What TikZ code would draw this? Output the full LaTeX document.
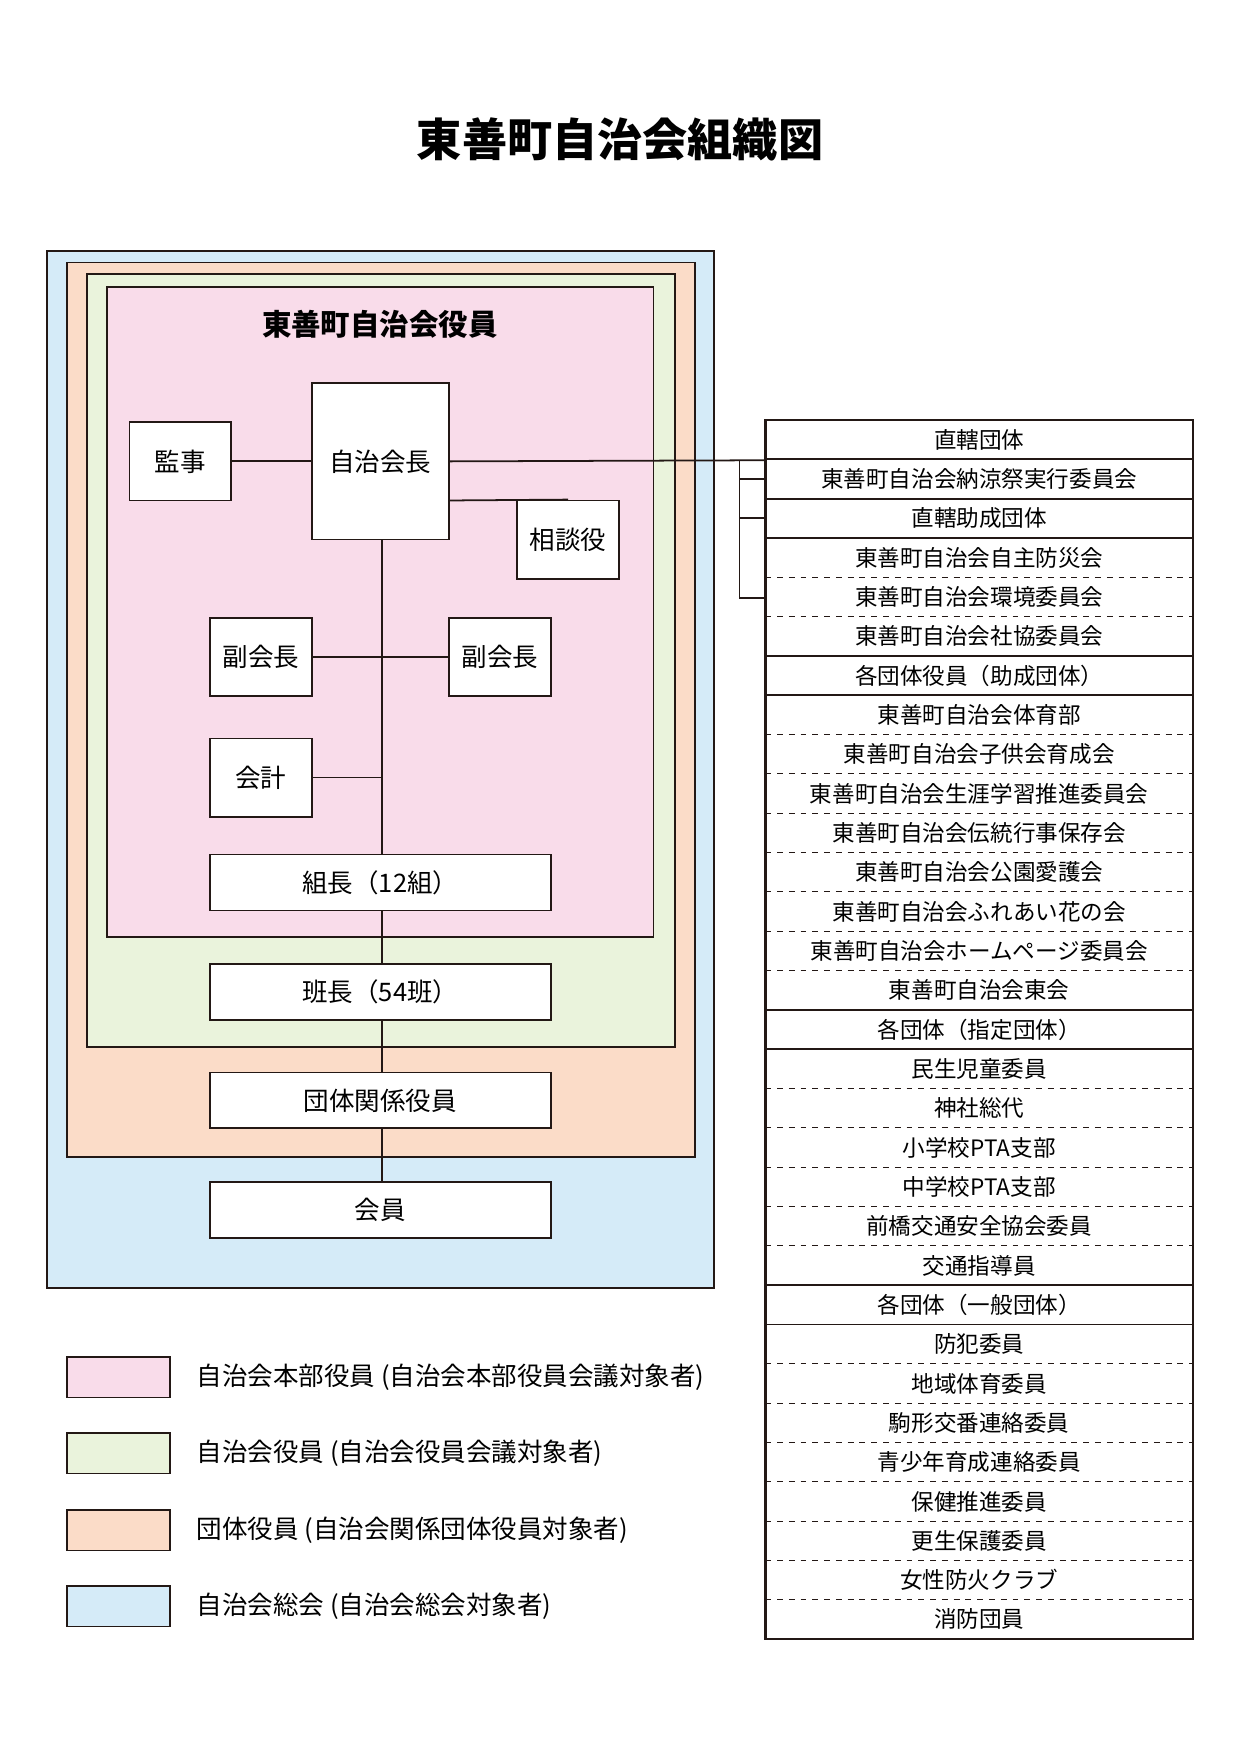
\documentclass[tikz,border=0pt]{standalone}
\usepackage{fontspec}
\setmainfont{Noto Sans CJK JP}
\usetikzlibrary{positioning}
\definecolor{pinkbg}{HTML}{F9DCEA}
\definecolor{greenbg}{HTML}{EAF3DC}
\definecolor{orangebg}{HTML}{FBDCC8}
\definecolor{bluebg}{HTML}{D5EBF8}
\definecolor{ink}{HTML}{231815}
\tikzset{
  role/.style={draw=ink,fill=white,line width=0.9pt,inner sep=0pt,font=\fontsize{13}{15}\selectfont},
  link/.style={draw=ink,line width=0.9pt},
  area/.style={draw=ink,line width=0.9pt},
  row/.style={inner sep=0pt,font=\fontsize{11.5}{13}\selectfont},
  legtext/.style={anchor=west,font=\fontsize{13}{15}\selectfont}
}
\newcommand{\rolebox}[5]{\node[role,minimum width=#4*0.02cm,minimum height=#5*0.02cm] (#1) at (#2) {#3};}
\begin{document}
\begin{tikzpicture}[x=0.02cm,y=-0.02cm]
    \useasboundingbox (0,0) rectangle (1110,1571);
    \node[font=\fontsize{23}{27}\selectfont\bfseries] (title) at (555,125) {東善町自治会組織図};
    % nested areas
    \draw[area,fill=bluebg] (42,225) rectangle (639,1153);
    \draw[area,fill=orangebg] (60,235) rectangle (622,1036);
    \draw[area,fill=greenbg] (78,245) rectangle (604,937);
    \draw[area,fill=pinkbg] (96,257) rectangle (585,839);
    \node[font=\fontsize{15}{17}\selectfont\bfseries] (head) at (340,290) {東善町自治会役員};
    % roles
    \rolebox{chair}{340.5,413}{自治会長}{123}{140}
    \rolebox{audit}{161.5,413}{監事}{91}{70}
    \rolebox{advisor}{508.5,483}{相談役}{91}{70}
    \rolebox{vicel}{233.5,588}{副会長}{91}{70}
    \rolebox{vicer}{447.5,588}{副会長}{91}{70}
    \rolebox{treas}{233.5,696}{会計}{91}{70}
    \rolebox{kumi}{340.5,790}{組長（12組）}{305}{50}
    \rolebox{han}{340.5,888}{班長（54班）}{305}{50}
    \rolebox{dantai}{340.5,985}{団体関係役員}{305}{50}
    \rolebox{member}{340.5,1083}{会員}{305}{50}
    % connectors
    \coordinate (spine) at (342,483);
    \draw[link] (spine) -- (342,765);
    \draw[link] (342,815) -- (342,863);
    \draw[link] (342,913) -- (342,960);
    \draw[link] (342,1010) -- (342,1058);
    \draw[link] (audit.east) -- (chair.west);
    \draw[link] (chair.east |- 0,448) -- (advisor.north);
    \draw[link] (vicel.east) -- (vicer.west);
    \draw[link] (treas.east) -- (treas.east -| spine);
    \coordinate (tab) at (685,412);
    \draw[link] (chair.east) -- (tab);
    \draw[link] (662,412) -- (662,535) -- (685,535);
    \draw[link] (662,429) -- (685,429);
    \draw[link] (662,464) -- (685,464);
    % table
    \foreach \i/\txt/\kind in {
      1/直轄団体/1, 2/東善町自治会納涼祭実行委員会/1, 3/直轄助成団体/1,
      4/東善町自治会自主防災会/0, 5/東善町自治会環境委員会/0, 6/東善町自治会社協委員会/1,
      7/各団体役員（助成団体）/1, 8/東善町自治会体育部/0, 9/東善町自治会子供会育成会/0,
      10/東善町自治会生涯学習推進委員会/0, 11/東善町自治会伝統行事保存会/0,
      12/東善町自治会公園愛護会/0, 13/東善町自治会ふれあい花の会/0,
      14/東善町自治会ホームページ委員会/0, 15/東善町自治会東会/1,
      16/各団体（指定団体）/1, 17/民生児童委員/0, 18/神社総代/0, 19/小学校PTA支部/0,
      20/中学校PTA支部/0, 21/前橋交通安全協会委員/0, 22/交通指導員/1,
      23/各団体（一般団体）/1, 24/防犯委員/0, 25/地域体育委員/0, 26/駒形交番連絡委員/0,
      27/青少年育成連絡委員/0, 28/保健推進委員/0, 29/更生保護委員/0,
      30/女性防火クラブ/0, 31/消防団員/1} {
      \node[row] (r\i) at (876.5,{376+35.2*(\i-0.5)}) {\txt};
      \ifnum\kind=1
        \draw[link] (685,{376+35.2*\i}) -- (1068,{376+35.2*\i});
      \else
        \draw[ink,dashed,line width=0.5pt] (685,{376+35.2*\i}) -- (1068,{376+35.2*\i});
      \fi
    }
    \draw[ink,line width=1.4pt] (685,376) rectangle (1068,1467.2);
    % legend
    \draw[area,fill=pinkbg] (60,1215) rectangle (152,1251);
    \node[legtext] (leg1) at (170,1233) {自治会本部役員 (自治会本部役員会議対象者)};
    \draw[area,fill=greenbg] (60,1283) rectangle (152,1319);
    \node[legtext] (leg2) at (170,1301) {自治会役員 (自治会役員会議対象者)};
    \draw[area,fill=orangebg] (60,1352) rectangle (152,1388);
    \node[legtext] (leg3) at (170,1370) {団体役員 (自治会関係団体役員対象者)};
    \draw[area,fill=bluebg] (60,1420) rectangle (152,1456);
    \node[legtext] (leg4) at (170,1438) {自治会総会 (自治会総会対象者)};
\end{tikzpicture}
\end{document}
